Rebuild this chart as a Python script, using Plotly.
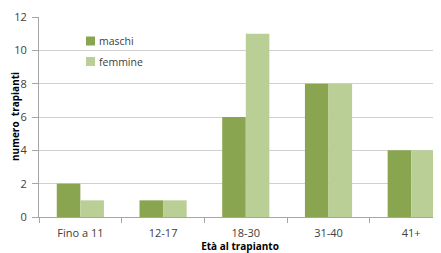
import plotly.graph_objects as go

categories = ["Fino a 11", "12-17", "18-30", "31-40", "41+"]
maschi = [2, 1, 6, 8, 4]
femmine = [1, 1, 11, 8, 4]
series_names = ["maschi", "femmine"]
series_colors = ["#8aa54f", "#b9cf96"]
y_ticks = [0, 2, 4, 6, 8, 10, 12]
y_title = "numero  trapianti"
x_title = "Età al trapianto"

font_family = "Open Sans, Liberation Sans, sans-serif"

# the page body adds an 8px margin, so the figure is sized to fill the rest
fig = go.Figure()
for name, vals, col in zip(series_names, [maschi, femmine], series_colors):
    fig.add_trace(go.Bar(x=categories, y=vals, name=name, marker_color=col,
                         marker_line_width=0, showlegend=False))

# legend drawn as small squares + labels (Excel-style compact legend)
annotations = []
shapes = []
for i, (name, col) in enumerate(zip(series_names, series_colors)):
    yc = 41 + i * 20.5
    shapes.append(dict(type="rect", xref="paper", yref="paper",
                       x0=(86 - 39) / 402, x1=(95 - 39) / 402,
                       y0=(217 - (yc + 4.5)) / 200, y1=(217 - (yc - 4.5)) / 200,
                       fillcolor=col, line=dict(width=0)))
    annotations.append(dict(text=name, xref="paper", yref="paper",
                            x=(97 - 39) / 402, y=(217 - yc) / 200,
                            xanchor="left", yanchor="middle", showarrow=False,
                            font=dict(size=10.5, color="#404040")))

# y-axis title placed explicitly
annotations.append(dict(text=f"<b>{y_title}</b>", xref="paper", yref="paper",
                        x=(15 - 39) / 402, y=0.5, textangle=-90,
                        xanchor="center", yanchor="middle", showarrow=False,
                        font=dict(size=10, color="#000000")))

fig.update_layout(
    width=433, height=245,
    margin=dict(l=31, r=0, t=9, b=36),
    paper_bgcolor="white", plot_bgcolor="white",
    barmode="group", bargap=0.43, bargroupgap=0,
    font=dict(family=font_family, size=10, color="#404040"),
    showlegend=False,
    shapes=shapes,
    annotations=annotations,
    xaxis=dict(
        type="category", range=[-0.5, 4.36], automargin=False,
        showline=True, linecolor="#a6a6a6", linewidth=1,
        ticks="outside", tickson="boundaries", ticklen=5, tickcolor="#a6a6a6",
        ticklabelstandoff=6,
        showgrid=False,
        title=dict(text=f"<b>{x_title}</b>", standoff=0, font=dict(size=10, color="#000000")),
        tickfont=dict(size=11, color="#404040"),
    ),
    yaxis=dict(
        range=[0, 12], tickvals=y_ticks, automargin=False,
        showline=True, linecolor="#a6a6a6", linewidth=1,
        ticks="outside", ticklen=6, tickcolor="#a6a6a6",
        ticklabelstandoff=3,
        showgrid=True, gridcolor="#d0d0d0", gridwidth=1,
        zeroline=False,
        tickfont=dict(size=11, color="#404040"),
    ),
)

fig.write_html("out.html")
